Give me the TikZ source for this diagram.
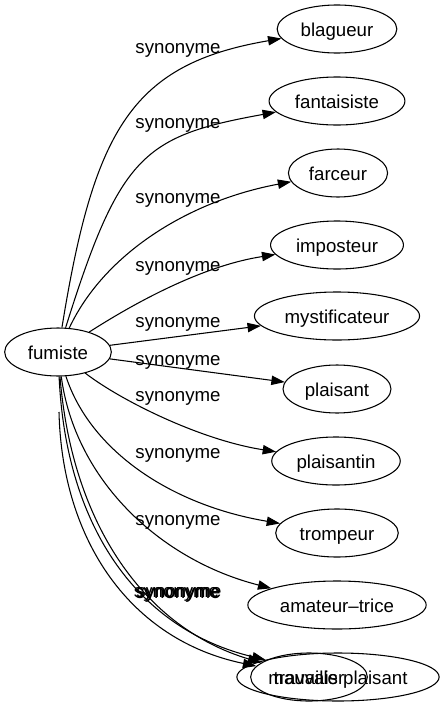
\documentclass[tikz,border=0pt]{standalone}
\usepackage{fontspec}
\setmainfont{Liberation Sans}
\usetikzlibrary{shapes.geometric,arrows.meta}
\begin{document}
\begin{tikzpicture}[x=0.75pt,y=-0.75pt,font=\fontsize{14pt}{16pt}\selectfont,
  w/.style={ellipse,draw,line width=0.8pt,inner xsep=4.5pt,inner ysep=0pt,minimum height=36pt,text height=11.5pt,text depth=0pt},
  lbl/.style={inner sep=0pt},
  arr/.style={-{Triangle[length=10pt,width=7pt]},line width=0.8pt}]
\useasboundingbox (0,0) rectangle (444,707);
% words
\node[w,minimum width=80pt] (fum) at (58,352) {fumiste};
\node[w] (bla) at (337,29) {blagueur};
\node[w] (fan) at (337,101) {fantaisiste};
\node[w] (far) at (338,173) {farceur};
\node[w] (imp) at (337,245) {imposteur};
\node[w] (mys) at (337,316) {mystificateur};
\node[w] (pls) at (337,389) {plaisant};
\node[w] (plt) at (336,461) {plaisantin};
\node[w] (tro) at (337,533) {trompeur};
\node[w] (ama) at (337,605) {amateur–trice};
\node[w,inner xsep=1.5pt] (mau) at (338,677) {mauvais plaisant};
\node[w] (tra) at (309,677) {travailler};
\coordinate (free) at (59,412);
% edge labels
\node[lbl] (l1) at (178,50) {synonyme};
\node[lbl] (l2) at (178,125) {synonyme};
\node[lbl] (l3) at (178,200) {synonyme};
\node[lbl] (l4) at (178,268) {synonyme};
\node[lbl] (l5) at (178,324) {synonyme};
\node[lbl] (l6) at (178,362) {synonyme};
\node[lbl] (l7) at (178,398) {synonyme};
\node[lbl] (l8) at (178,455) {synonyme};
\node[lbl] (l9) at (178,522) {synonyme};
\node[lbl] (l10) at (176.5,594) {synonyme};
\node[lbl] (l11) at (179,594) {synonyme};
\node[lbl] (l12) at (178,595) {synonyme};
% edges
\draw[arr] (fum) .. controls (94,129) and (132,64) .. (bla);
\draw[arr] (fum) .. controls (120,154) and (144,136) .. (fan);
\draw[arr] (fum) .. controls (104,254) and (188,201) .. (far);
\draw[arr] (fum) .. controls (133,304) and (201,266) .. (imp);
\draw[arr] (fum) -- (mys);
\draw[arr] (fum) -- (pls);
\draw[arr] (fum) .. controls (120,400) and (200,440) .. (plt);
\draw[arr] (fum) .. controls (90,450) and (170,505) .. (tro);
\draw[arr] (fum) .. controls (75,480) and (160,560) .. (ama);
\draw[arr] (fum) .. controls (66,530) and (140,630) .. (mau);
\draw[arr] (fum) .. controls (72,525) and (145,628) .. (tra);
\draw[arr] (free) .. controls (62,540) and (130,640) .. (tra);
\end{tikzpicture}
\end{document}
